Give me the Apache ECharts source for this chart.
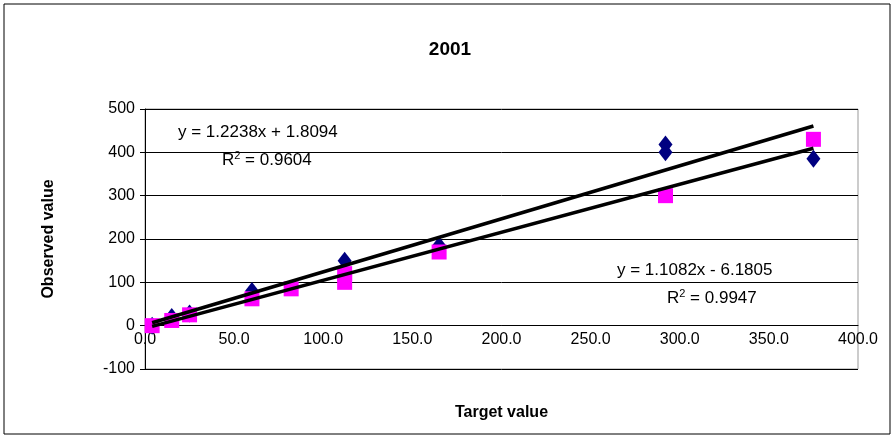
<!DOCTYPE html>
<html lang="en">
<head>
<meta charset="UTF-8">
<title>2001</title>
<script src="https://cdn.jsdelivr.net/npm/echarts@6/dist/echarts.min.js"></script>
<style>
  body { margin: 0; background: #fff; }
  #main { width: 896px; height: 437px; }
</style>
</head>
<body>
<div id="main"></div>
<script>
// series 1 (diamonds) and series 2 (squares), [target, observed]
const diamondPoints = [[4, 0], [15, 20], [25, 28], [60, 80], [112, 150], [165, 185], [292, 400], [292, 418], [375, 385]];
const squarePoints = [[4, 0], [15, 12], [25, 25], [60, 62], [82, 85], [112, 100], [112, 120], [165, 170], [292, 300], [375, 430]];
// trendline endpoints
const diamondTrend = [[4, 6.7], [375, 460.7]];
const squareTrend = [[4, -1.7], [375, 409.4]];

const chart = echarts.init(document.getElementById('main'));
const font = 'Liberation Sans, Arial, sans-serif';
const eqStyle = { fontFamily: font, fontSize: 17, fill: '#000' };
const sup = { s: { fontFamily: font, fontSize: 11, verticalAlign: 'top', padding: [0, 0, 9, 0] }, n: { fontFamily: font, fontSize: 17 } };

chart.setOption({
  animation: false,
  title: {
    text: '2001', left: 445, top: 35, textAlign: 'center',
    textStyle: { fontFamily: font, fontSize: 19, fontWeight: 'bold', color: '#000' }
  },
  grid: { left: 145, right: 38, top: 109, bottom: 68, show: true, borderColor: '#999', borderWidth: 1,
    outerBoundsMode: 'none', containLabel: false },
  xAxis: {
    type: 'value', min: 0, max: 400, interval: 50,
    name: 'Target value', nameLocation: 'middle', nameGap: 36,
    nameTextStyle: { fontFamily: font, fontSize: 16, fontWeight: 'bold', color: '#000' },
    axisLine: { onZero: true, lineStyle: { color: '#000' } },
    axisTick: { show: false },
    axisLabel: { fontFamily: font, fontSize: 16, color: '#000', margin: -37,
      formatter: v => v.toFixed(1) },
    splitLine: { show: false }
  },
  yAxis: {
    type: 'value', min: -100, max: 500, interval: 100,
    name: 'Observed value', nameLocation: 'middle', nameGap: 88,
    nameTextStyle: { fontFamily: font, fontSize: 16, fontWeight: 'bold', color: '#000' },
    axisLine: { show: true, lineStyle: { color: '#000' } },
    axisTick: { show: true, length: 5, lineStyle: { color: '#000' } },
    axisLabel: { fontFamily: font, fontSize: 16, color: '#000', margin: 10 },
    splitLine: { show: true, lineStyle: { color: '#000', width: 1 } }
  },
  graphic: [
    { type: 'rect', shape: { x: 4, y: 4, width: 886, height: 430 }, style: { fill: 'none', stroke: '#000', lineWidth: 1 }, z: -1 },
    { type: 'text', left: 178, top: 124, style: Object.assign({ text: 'y = 1.2238x + 1.8094' }, eqStyle) },
    { type: 'text', left: 222, top: 150, style: Object.assign({ rich: sup, text: '{n|R}{s|2}{n| = 0.9604}' }, eqStyle) },
    { type: 'text', left: 617, top: 262, style: Object.assign({ text: 'y = 1.1082x - 6.1805' }, eqStyle) },
    { type: 'text', left: 667, top: 288, style: Object.assign({ rich: sup, text: '{n|R}{s|2}{n| = 0.9947}' }, eqStyle) }
  ],
  series: [
    { type: 'scatter', data: diamondPoints, symbol: 'diamond', symbolSize: [14, 18], itemStyle: { color: '#000080', opacity: 1 }, z: 3 },
    { type: 'scatter', data: squarePoints, symbol: 'rect', symbolSize: 15, itemStyle: { color: '#ff00ff', opacity: 1 }, z: 3 },
    { type: 'line', data: diamondTrend, symbol: 'none', lineStyle: { color: '#000', width: 3.5 }, z: 4 },
    { type: 'line', data: squareTrend, symbol: 'none', lineStyle: { color: '#000', width: 3.5 }, z: 4 }
  ]
});
</script>
</body>
</html>
